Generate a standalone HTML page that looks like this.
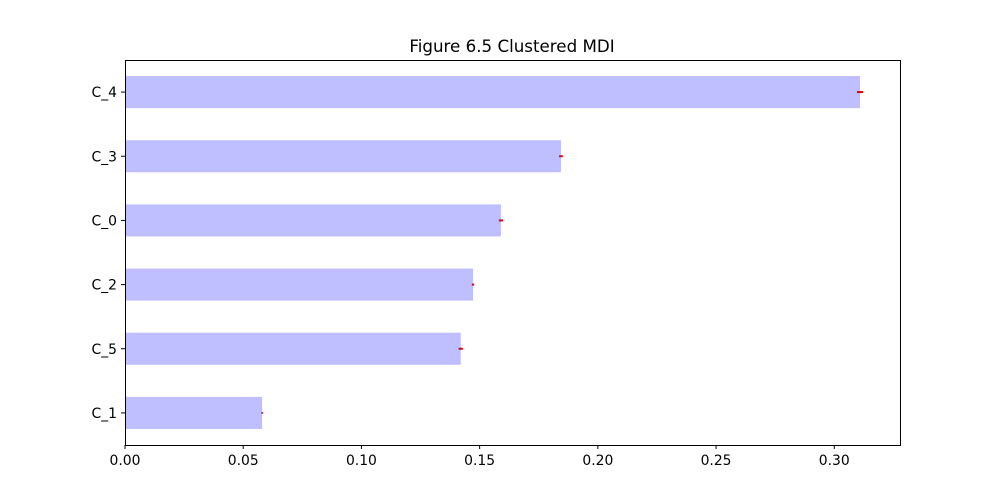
<!DOCTYPE html>
<html><head><meta charset="utf-8"><style>
body{margin:0;background:#fff;}
svg{display:block;font-family:"DejaVu Sans","Liberation Sans",sans-serif;}
</style></head><body>
<svg id="chart" width="1000" height="500">
<text x="512" y="52" text-anchor="middle" font-size="16.7">Figure 6.5 Clustered MDI</text>
<g id="bars"></g>
<rect x="125.5" y="60.5" width="775" height="385" fill="none" stroke="#000" stroke-width="1"/>
<g id="axes"></g>
</svg>
<script>
const categories = ["C_1","C_5","C_2","C_0","C_3","C_4"];
const importance = [0.058,0.142,0.1472,0.159,0.1844,0.3109];
const errors = [0.0003,0.0009,0.0005,0.0009,0.0008,0.0013];
const xTicks = [0,0.05,0.10,0.15,0.20,0.25,0.30];
const xTickLabels = ["0.00","0.05","0.10","0.15","0.20","0.25","0.30"];
const X0=125,X1=900,Y0=60,Y1=445,XMAX=0.3278;
const xs=v=>X0+v/XMAX*(X1-X0);
const ys=i=>Y1-(i+0.5)/categories.length*(Y1-Y0);
const NS="http://www.w3.org/2000/svg";
const bars=document.getElementById('bars'),axes=document.getElementById('axes');
function mk(tag,attrs,parent){const e=document.createElementNS(NS,tag);for(const k in attrs)e.setAttribute(k,attrs[k]);parent.appendChild(e);return e;}
const bh=0.5*(Y1-Y0)/categories.length;
categories.forEach((c,i)=>{
  const r=mk('rect',{x:xs(0),y:ys(i)-bh/2,width:xs(importance[i])-xs(0),height:bh,fill:'#bfbfff'},bars);
  
  
  const l=mk('line',{x1:xs(importance[i]-errors[i]),x2:xs(importance[i]+errors[i]),y1:ys(i),y2:ys(i),stroke:'#e00000','stroke-width':2},bars);
  
  
  const t=mk('line',{x1:X0-4,x2:X0,y1:ys(i),y2:ys(i),stroke:'#000'},axes);
  
  
  const tx=mk('text',{x:X0-8,y:ys(i)+5,'text-anchor':'end','font-size':13.9},axes);
  tx.textContent=c;
  
  
});
xTicks.forEach((v,i)=>{
  const t=mk('line',{x1:xs(v),x2:xs(v),y1:Y1,y2:Y1+4,stroke:'#000'},axes);
  
  
  const tx=mk('text',{x:xs(v),y:Y1+20,'text-anchor':'middle','font-size':13.9},axes);
  tx.textContent=xTickLabels[i];
  
  
});
</script>
</body></html>
